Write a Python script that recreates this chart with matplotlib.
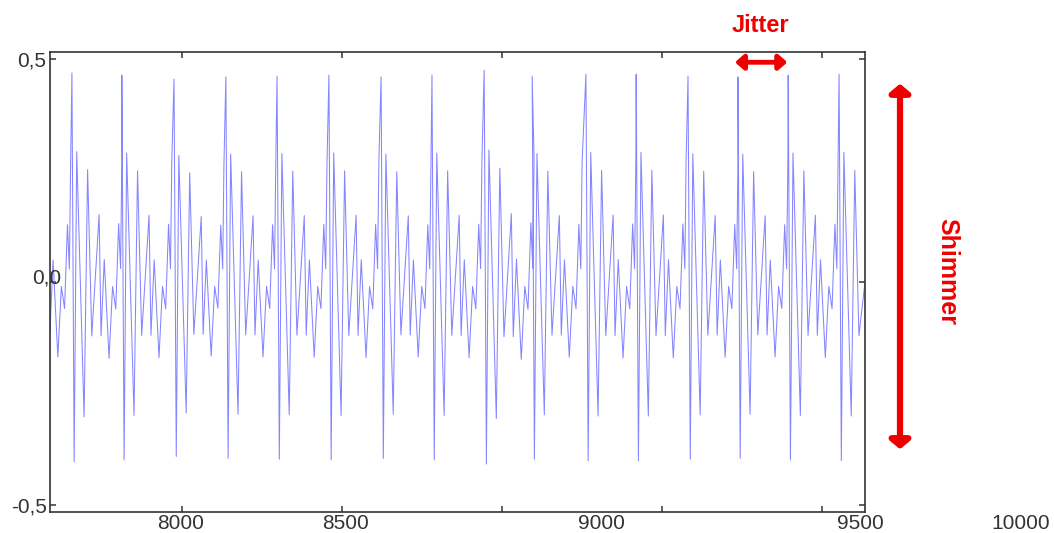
import matplotlib.pyplot as plt
from matplotlib.patches import FancyArrowPatch
from matplotlib.transforms import ScaledTranslation

plt.rcParams['font.family'] = ['Liberation Sans', 'DejaVu Sans']

# sample index of each glottal peak and its height
peak_x = [7496, 7656, 7812, 7975, 8137, 8297, 8459, 8622, 8781, 8944,
          9094, 9262, 9419, 9581, 9737, 9894, 10053]
peak_y = [0.460, 0.469, 0.464, 0.455, 0.460, 0.462, 0.464, 0.460, 0.464, 0.475,
          0.462, 0.466, 0.466, 0.462, 0.460, 0.464, 0.466]

# shape of one period: turning points after the peak (offset in samples, value)
shape_offsets = [0, 7, 15, 38, 49, 62, 85, 91, 101, 116, 127, 137, 146, 152, 156]
shape_values = [0.465, -0.40, 0.29, -0.30, 0.25, -0.12, 0.15, -0.12, 0.05,
                -0.17, -0.01, -0.06, 0.13, 0.03, 0.27]

x_end = 10134

# build the trace from the read periods
xs, ys = [], []
for px, py in zip(peak_x, peak_y):
    scale = py / shape_values[0]
    for off, val in zip(shape_offsets, shape_values):
        if px + off <= x_end:
            xs.append(px + off)
            ys.append(val * scale)
xs.append(x_end)
ys.append(0.0)

xtick_vals = [8000, 8500, 9000, 9500, 10000]
xlabel_pos = [7995, 8510, 9310, 10120, 10620]
xlabel_txt = ['8000', '8500', '9000', '9500', '10000']

fig = plt.figure(figsize=(10.54, 5.33), dpi=100)
ax = fig.add_axes([50 / 1054, 1 - 512 / 533, 815 / 1054, 460 / 533])

ax.plot(xs, ys, color='#8585ff', lw=0.75)

ax.set_xlim(7587.5, 10134)
ax.set_ylim(-0.516, 0.516)

ax.set_xticks(xtick_vals)
ax.set_xticklabels([])
ax.set_yticks([-0.5, 0, 0.5])
ax.set_yticklabels(['-0,5', '', '0,5'], fontsize=15, color='#333333')
for lab in ax.get_yticklabels():
    lab.set_transform(lab.get_transform() + ScaledTranslation(0, 4 / 100, fig.dpi_scale_trans))
ax.tick_params(direction='in', top=True, right=True, length=4, width=1.1,
               color='#333333', pad=2.5)
for sp in ax.spines.values():
    sp.set_color('#333333')
    sp.set_linewidth(1.2)

# x labels (placed as in the picture)
for xp, t in zip(xlabel_pos, xlabel_txt):
    ax.text(xp, -0.024, t, transform=ax.get_xaxis_transform(), ha='center', va='center',
            fontsize=15, color='#333333', clip_on=False)

fig.text(47 / 1054, 1 - 278 / 533, '0,0', ha='center', va='center', fontsize=15, color='#333333')

# Jitter arrow
red = '#ee0000'
jit = FancyArrowPatch((9719, 0.493), (9900, 0.493),
                      arrowstyle='<|-|>,head_length=0.25,head_width=0.22',
                      mutation_scale=20, lw=3.5, color=red, clip_on=False)
ax.add_patch(jit)
fig.text(760 / 1054, 1 - 25 / 533, 'Jitter', ha='center', va='center',
         fontsize=17, fontweight='bold', color=red)

# Shimmer arrow
shim = FancyArrowPatch((900 / 1054, 1 - 81 / 533), (900 / 1054, 1 - 452 / 533),
                       arrowstyle='<|-|>,head_length=0.25,head_width=0.3',
                       mutation_scale=20, lw=4.5, color=red,
                       transform=fig.transFigure)
fig.add_artist(shim)
fig.text(947 / 1054, 1 - 272 / 533, 'Shimmer', rotation=-90, ha='center', va='center',
         fontsize=18, fontweight='bold', color=red)

fig.savefig('out.png', dpi=100)
